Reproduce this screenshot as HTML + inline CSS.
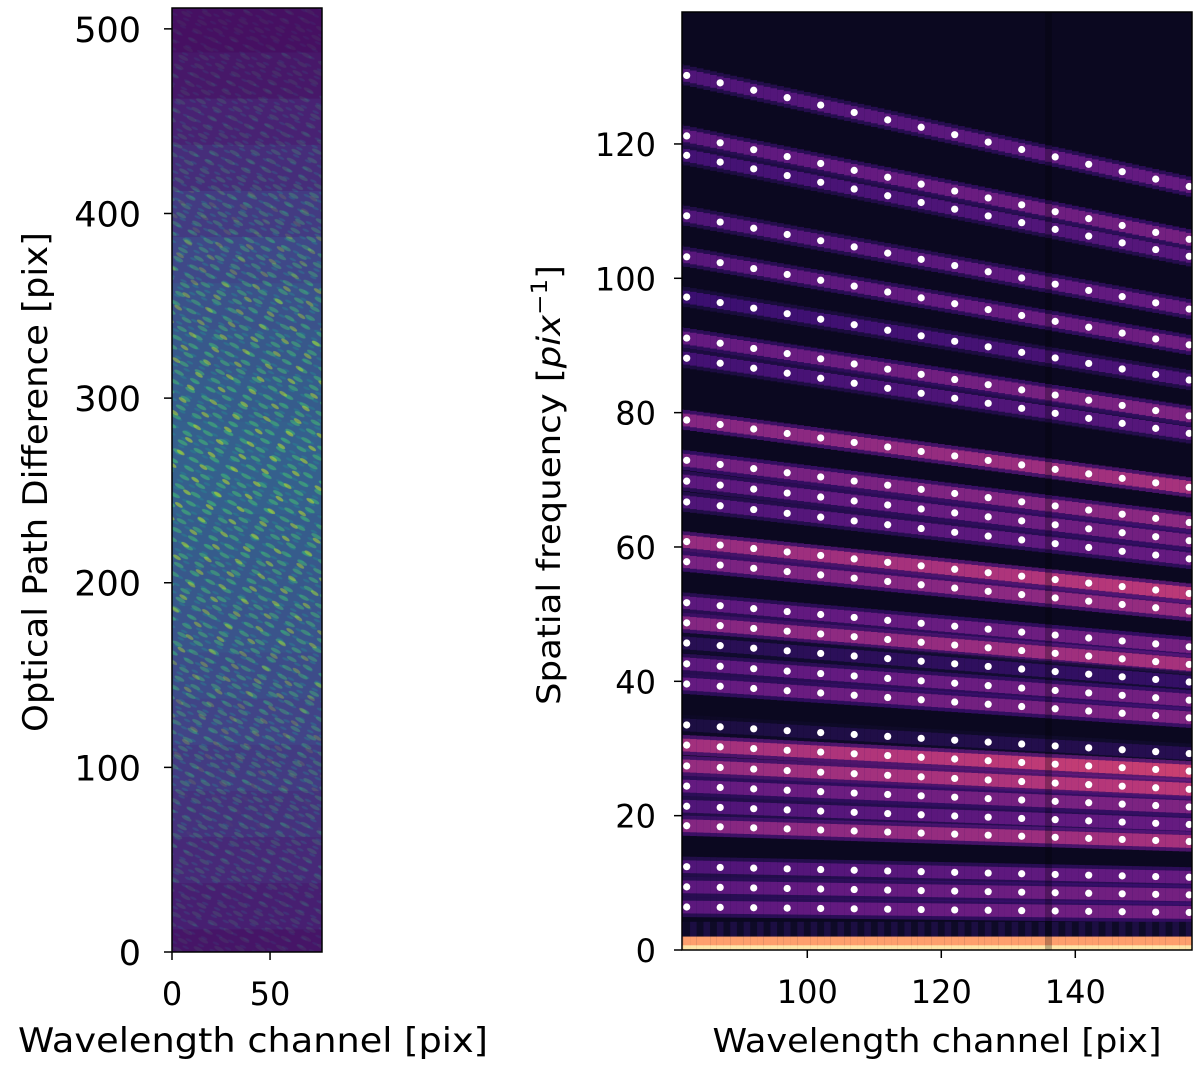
<!DOCTYPE html>
<html><head><meta charset="utf-8"><style>
body{margin:0;background:#fff;}
svg{display:block;font-family:"DejaVu Sans","Liberation Sans",sans-serif;}
</style></head><body>
<svg id="fig" width="1200" height="1068" viewBox="0 0 1200 1068">
<defs>
<pattern id="streakA" width="18" height="10" patternUnits="userSpaceOnUse" patternTransform="rotate(28)">
<ellipse cx="9" cy="5" rx="5.5" ry="1.9" fill="#44bf70"/>
</pattern>
<pattern id="streakB" width="27" height="15" patternUnits="userSpaceOnUse" patternTransform="rotate(33) translate(7 4)">
<ellipse cx="13" cy="7" rx="4.5" ry="1.8" fill="#bddf26"/>
</pattern>
<pattern id="streakC" width="13" height="8" patternUnits="userSpaceOnUse" patternTransform="rotate(24) translate(3 2)">
<ellipse cx="6" cy="4" rx="3.5" ry="1.3" fill="#2a788e"/>
</pattern>
<clipPath id="clipL"><rect x="172" y="8" width="150" height="944"/></clipPath>
<clipPath id="clipR"><rect x="682" y="12" width="510" height="938"/></clipPath>
</defs>
<g id="left"></g>
<g id="right"></g>
</svg>
<script>
// ---- data: left panel envelope (mean brightness by OPD) ----
const opdRows = [0,25,50,75,100,125,150,175,200,225,250,275,300,325,350,375,400,425,450,475,500];
const opdLevel = [0.08,0.12,0.16,0.2,0.24,0.28,0.32,0.36,0.38,0.4,0.42,0.42,0.4,0.38,0.35,0.3,0.24,0.18,0.13,0.09,0.06];
const leftXTicks = [0,50];
const leftYTicks = [0,100,200,300,400,500];
// ---- data: right panel bands (spatial frequency at channel 82) ----
const bandFreq = [130.2,121.2,118.3,109.3,103.2,97.2,91.1,88.1,78.9,72.9,69.8,66.7,60.8,57.8,51.7,48.7,45.7,42.6,39.6,33.5,30.5,27.4,24.4,21.4,18.5,12.4,9.4,6.4];
const bandLevel = [0.25,0.28,0.22,0.25,0.27,0.2,0.3,0.22,0.38,0.33,0.28,0.25,0.42,0.35,0.28,0.38,0.15,0.28,0.3,0.12,0.45,0.42,0.3,0.25,0.38,0.25,0.28,0.28];
const bandDrift = 0.127;
const dotChannels = [82,87,92,97,102,107,112,117,122,127,132,137,142,147,152,157];
const rightXTicks = [100,120,140];
const rightYTicks = [0,20,40,60,80,100,120];

const NS="http://www.w3.org/2000/svg";
function mk(tag,attrs,parent){const e=document.createElementNS(NS,tag);for(const k in attrs)e.setAttribute(k,attrs[k]);parent.appendChild(e);return e;}
function lerpMap(stops,t){t=Math.max(0,Math.min(1,t));const n=stops.length-1;const i=Math.min(n-1,Math.floor(t*n));const f=t*n-i;
 const a=stops[i],b=stops[i+1];const h=s=>[parseInt(s.slice(1,3),16),parseInt(s.slice(3,5),16),parseInt(s.slice(5,7),16)];
 const A=h(a),B=h(b);return "rgb("+A.map((v,k)=>Math.round(v+(B[k]-v)*f)).join(",")+")";}
const VIR=["#440154","#482475","#414487","#355f8d","#2a788e","#21918c","#22a884","#44bf70","#7ad151","#bddf26","#fde725"];
const MAG=["#000004","#140e36","#3b0f70","#641a80","#8c2981","#b73779","#de4968","#f7705c","#fe9f6d","#fecf92","#fcfdbf"];

// ---------- LEFT PANEL ----------
const L=document.getElementById('left');
const lx=v=>172+v*(150/76.5), ly=v=>952-v*(944/511.3);
const lImg=mk('g',{'clip-path':'url(#clipL)'},L);


mk('rect',{x:172,y:8,width:150,height:944,fill:lerpMap(VIR,0.05)},lImg);
opdRows.forEach((r,i)=>{
  const y0=ly(r+12.5+(i===opdRows.length-1?20:0)), y1=ly(r-12.5-(i===0?5:0));
  const base=mk('rect',{x:172,y:y0,width:150,height:y1-y0+0.5,fill:lerpMap(VIR,opdLevel[i]*0.72)},lImg);
  
  
  mk('rect',{x:172,y:y0,width:150,height:y1-y0+0.5,fill:'url(#streakC)',opacity:Math.min(1,opdLevel[i]*1.8)},lImg);
  mk('rect',{x:172,y:y0,width:150,height:y1-y0+0.5,fill:'url(#streakA)',opacity:Math.min(1,opdLevel[i]*1.3)},lImg);
  mk('rect',{x:172,y:y0,width:150,height:y1-y0+0.5,fill:'url(#streakB)',opacity:Math.min(1,Math.max(0,opdLevel[i]*2.4-0.45))},lImg);
});
mk('rect',{x:172,y:8,width:150,height:944,fill:'none',stroke:'#000','stroke-width':1.5},L);
leftXTicks.forEach(t=>{const x=lx(t);
  mk('line',{x1:x,y1:952,x2:x,y2:960,stroke:'#000','stroke-width':1.5},L);
  const tx=mk('text',{x:x,y:1005,'font-size':32,'text-anchor':'middle'},L);tx.textContent=t;
  
  });
leftYTicks.forEach(t=>{const y=ly(t);
  mk('line',{x1:164,y1:y,x2:172,y2:y,stroke:'#000','stroke-width':1.5},L);
  const tx=mk('text',{x:141,y:y+13,'font-size':35,'text-anchor':'end'},L);tx.textContent=t;
  
  });
let t1=mk('text',{x:253,y:1052,'font-size':34,'text-anchor':'middle',textLength:470,lengthAdjust:'spacingAndGlyphs'},L);t1.textContent='Wavelength channel [pix]';


let t2=mk('text',{x:0,y:0,'font-size':34,'text-anchor':'middle',textLength:500,lengthAdjust:'spacingAndGlyphs',transform:'translate(47 482) rotate(-90)'},L);t2.textContent='Optical Path Difference [pix]';



// ---------- RIGHT PANEL ----------
const R=document.getElementById('right');
const rx=c=>682+(c-81.3)*6.7, ry=f=>950-f*6.717;
const bandAt=(f0,c)=>f0*(1-bandDrift*(c-82)/75);
const rImg=mk('g',{'clip-path':'url(#clipR)'},R);


mk('rect',{x:682,y:12,width:510,height:938,fill:lerpMap(MAG,0.055)},rImg);
for(let c=81;c<=158;c++){
  const x0=rx(c-0.5), w=6.75;
  bandFreq.forEach((f0,i)=>{
    const f=bandAt(f0,c), lv=bandLevel[i]*(1+0.22*(c-82)/75);
    mk('rect',{x:x0,y:ry(f+1.5),width:w,height:3*6.717,fill:lerpMap(MAG,lv*0.6),opacity:0.8},rImg);
    const b=mk('rect',{x:x0,y:ry(f+0.95),width:w,height:1.9*6.717,fill:lerpMap(MAG,lv)},rImg);
    
    
  });
  mk('rect',{x:x0,y:ry(4.2),width:w,height:2.2*6.717,fill:lerpMap(MAG,c%2?0.12:0.07)},rImg);
  mk('rect',{x:x0,y:ry(2),width:w,height:2*6.717,fill:lerpMap(MAG,0.8)},rImg);
  mk('rect',{x:x0,y:ry(0.7),width:w,height:0.7*6.717,fill:lerpMap(MAG,0.95)},rImg);
}
mk('rect',{x:rx(135.5),y:12,width:6.7,height:938,fill:'#000',opacity:0.25},rImg);
bandFreq.forEach((f0,i)=>{dotChannels.forEach(c=>{
  const d=mk('circle',{cx:rx(c),cy:ry(bandAt(f0,c)),r:3.6,fill:'#fff'},rImg);
  
  
});});
mk('rect',{x:682,y:12,width:510,height:938,fill:'none',stroke:'#000','stroke-width':1.5},R);
rightXTicks.forEach(t=>{const x=rx(t);
  mk('line',{x1:x,y1:950,x2:x,y2:958,stroke:'#000','stroke-width':1.5},R);
  const tx=mk('text',{x:x,y:1003,'font-size':32,'text-anchor':'middle'},R);tx.textContent=t;
  
  });
rightYTicks.forEach(t=>{const y=ry(t);
  mk('line',{x1:674,y1:y,x2:682,y2:y,stroke:'#000','stroke-width':1.5},R);
  const tx=mk('text',{x:656,y:y+12,'font-size':32,'text-anchor':'end'},R);tx.textContent=t;
  
  });
let t3=mk('text',{x:937,y:1052,'font-size':33,'text-anchor':'middle',textLength:449,lengthAdjust:'spacingAndGlyphs'},R);t3.textContent='Wavelength channel [pix]';


let t4=mk('text',{x:0,y:0,'font-size':32,'text-anchor':'middle',textLength:440,lengthAdjust:'spacingAndGlyphs',transform:'translate(560 485) rotate(-90)'},R);


t4.innerHTML='Spatial frequency [<tspan font-style="italic">pix</tspan><tspan dy="-13" font-size="22">−1</tspan><tspan dy="13">]</tspan>';
</script>
</body></html>
